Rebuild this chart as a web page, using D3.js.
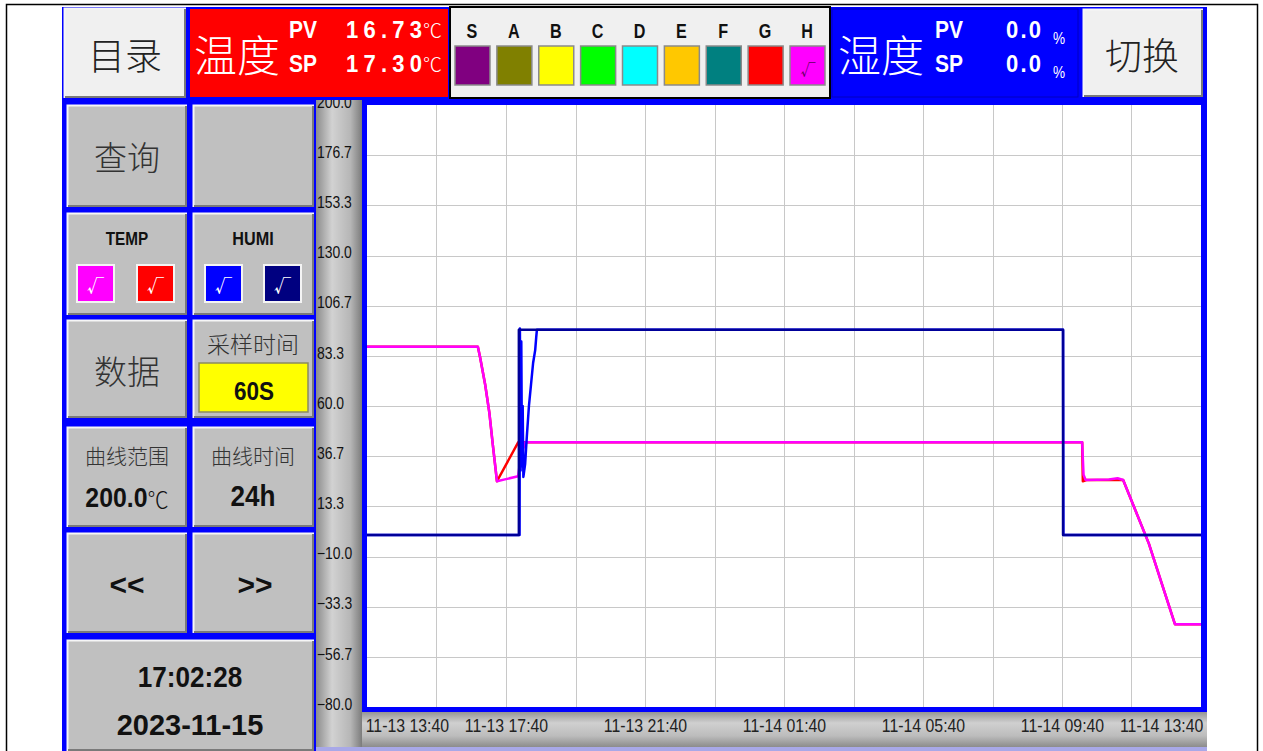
<!DOCTYPE html>
<html>
<head>
<meta charset="utf-8">
<script src="https://cdn.jsdelivr.net/npm/d3@7"></script>
<style>
  body { margin: 0; background: #fff; }
  text { font-family: "Noto Sans CJK SC", sans-serif; }
  .nar { font-family: "Liberation Sans", Arial, sans-serif; }
</style>
</head>
<body>
<script>
/* DATA */
// hours after 11-13 13:40
const yTicks = [200.0, 176.7, 153.3, 130.0, 106.7, 83.3, 60.0, 36.7, 13.3, -10.0, -33.3, -56.7, -80.0];
const xTickHours = [0, 4, 8, 12, 16, 20, 24];
const xTickLabels = ["11-13 13:40", "11-13 17:40", "11-13 21:40", "11-14 01:40", "11-14 05:40", "11-14 09:40", "11-14 13:40"];
const gridHours = [0, 2, 4, 6, 8, 10, 12, 14, 16, 18, 20, 22, 24];

const tempPV = [[0, 87.6], [3.19, 87.6], [3.25, 83], [3.40, 70], [3.52, 57], [3.62, 42], [3.74, 25], [4.0, 26], [4.35, 27.3],
  [4.42, 36], [4.55, 43.1], [20.58, 43.1], [20.62, 28], [20.68, 25.6], [21.35, 25.8], [21.6, 26.4], [21.76, 25.6],
  [22.1, 12], [22.5, -4], [22.9, -24], [23.25, -41.5], [24, -41.5]];
const tempSP = [[0, 87.6], [3.19, 87.6], [3.25, 83], [3.40, 70], [3.52, 57], [3.62, 42], [3.74, 25], [4.35, 43.1],
  [20.58, 43.1], [20.60, 25], [20.70, 25.6], [21.76, 25.6], [22.1, 12], [22.5, -4], [22.9, -24], [23.25, -41.5], [24, -41.5]];
const humiPV = [[0, 0], [4.39, 0], [4.40, 96], [4.42, 30], [4.44, 90], [4.46, 32], [4.48, 60], [4.50, 27], [4.55, 33],
  [4.60, 46], [4.66, 60], [4.72, 70], [4.78, 80], [4.84, 86], [4.87, 92], [4.89, 95.5], [20.03, 95.5], [20.04, 0], [24, 0]];
const humiSP = [[0, 0], [4.37, 0], [4.37, 95.5], [20.03, 95.5], [20.03, 0], [24, 0]];

const legendKeys = ["S", "A", "B", "C", "D", "E", "F", "G", "H"];
const legendColors = ["#800080", "#808000", "#ffff00", "#00ff00", "#00ffff", "#ffc800", "#008080", "#ff0000", "#ff00ff"];

/* CONSTANTS */
const W = 1263, H = 751,
  plot = { left: 367, right: 1201, top: 105, bottom: 707 },
  blue = "#0000ff",
  btnGray = "#c0c0c0";

const svg = d3.select("body").append("svg").attr("width", W).attr("height", H);

const defs = svg.append("defs");
const gy = defs.append("linearGradient").attr("id", "gy").attr("x1", 0).attr("x2", 1).attr("y1", 0).attr("y2", 0);
[[0, "#8c8c8c"], [0.35, "#d2d2d2"], [0.75, "#b6b6b6"], [1, "#7c7c7c"]].forEach(s => gy.append("stop").attr("offset", s[0]).attr("stop-color", s[1]));
const gx = defs.append("linearGradient").attr("id", "gx").attr("x1", 0).attr("x2", 0).attr("y1", 0).attr("y2", 1);
[[0, "#8a8a8a"], [0.35, "#d0d0d0"], [0.7, "#bcbcbc"], [1, "#8c8c8c"]].forEach(s => gx.append("stop").attr("offset", s[0]).attr("stop-color", s[1]));

// outer frame
svg.append("rect").attr("x", 6.5).attr("y", 4.5).attr("width", 1251).attr("height", 770)
  .attr("fill", "none").attr("stroke", "#000").attr("stroke-width", 1.5);

// blue backgrounds
svg.append("rect").attr("x", 62).attr("y", 7).attr("width", 1145).attr("height", 93).attr("fill", blue);
svg.append("rect").attr("x", 62).attr("y", 100).attr("width", 254).attr("height", 651).attr("fill", blue);

// axis strips
svg.append("rect").attr("x", 316).attr("y", 100).attr("width", 891).attr("height", 651).attr("fill", "#a8a8e8");
svg.append("rect").attr("x", 316).attr("y", 710).attr("width", 891).attr("height", 37).attr("fill", "url(#gx)");
svg.append("rect").attr("x", 316).attr("y", 100).attr("width", 46).attr("height", 647).attr("fill", "url(#gy)");
svg.append("rect").attr("x", 362).attr("y", 100).attr("width", 845).attr("height", 612).attr("fill", blue);
svg.append("rect").attr("x", plot.left).attr("y", plot.top).attr("width", plot.right - plot.left).attr("height", plot.bottom - plot.top).attr("fill", "#fff");

function bevel(x, y, w, h, fill) {
  const g = svg.append("g");
  g.append("rect").attr("x", x).attr("y", y).attr("width", w).attr("height", h).attr("fill", fill);
  g.append("path").attr("d", `M${x + 0.5},${y + h}V${y + 0.5}H${x + w}`).attr("stroke", "#f6f6f6").attr("stroke-width", 2).attr("fill", "none");
  g.append("path").attr("d", `M${x + 1},${y + h - 1}H${x + w - 1}V${y + 1}`).attr("stroke", "#7a7a7a").attr("stroke-width", 2).attr("fill", "none");
  return g;
}
// text placed at (x,y); sx squeezes glyphs horizontally, len stretches spacing
function label(x, y, str, size, opts = {}) {
  const t = svg.append("text")
    .attr("transform", `translate(${x},${y}) scale(${opts.sx || 1},${opts.sy || 1})`)
    .attr("class", opts.cls || null)
    .attr("text-anchor", opts.anchor || "middle")
    .attr("dominant-baseline", opts.base || "central")
    .attr("font-size", size)
    .attr("font-weight", opts.bold ? "bold" : (opts.weight || "normal"))
    .attr("fill", opts.fill || "#222")
    .text(str);
  if (opts.len) t.attr("textLength", opts.len).attr("lengthAdjust", "spacing");
  return t;
}
const cjk = { weight: 300 };

/* TOP BAR */
bevel(64, 8, 122, 90, "#f0f0f0");
label(125, 54, "目录", 37, { ...cjk });
svg.append("rect").attr("x", 190).attr("y", 9).attr("width", 258).attr("height", 88).attr("fill", "#ff0000");
label(237, 53, "温度", 43, { ...cjk, fill: "#fff" });
[["PV", "16.73", 38], ["SP", "17.30", 72]].forEach(r => {
  label(289, r[2], r[0], 21, { cls: "nar", bold: true, anchor: "start", base: "alphabetic", fill: "#fff", sx: 1.0, sy: 1.1 });
  label(422, r[2], r[1], 22, { cls: "nar", bold: true, anchor: "end", base: "alphabetic", fill: "#fff", len: 76, sy: 1.1 });
  label(423, r[2], "℃", 19, { ...cjk, anchor: "start", base: "alphabetic", fill: "#fff" });
});

// legend panel
svg.append("rect").attr("x", 450).attr("y", 7).attr("width", 380).attr("height", 91)
  .attr("fill", "#f0f0f0").attr("stroke", "#000").attr("stroke-width", 2);
const lx = d3.scalePoint().domain(legendKeys).range([472, 807]);
svg.selectAll(".lk").data(legendKeys).join("text").attr("class", "lk nar")
  .attr("transform", d => `translate(${lx(d)},38) scale(0.85,1.1)`).attr("text-anchor", "middle")
  .attr("font-size", 19).attr("font-weight", "bold").attr("fill", "#111").text(d => d);
svg.selectAll(".ls").data(legendKeys).join("rect").attr("class", "ls")
  .attr("x", d => lx(d) - 17).attr("y", 46).attr("width", 35).attr("height", 39)
  .attr("fill", (d, i) => legendColors[i]).attr("stroke", "#8a8a8a").attr("stroke-width", 1.5);
label(lx("H") + 1, 68, "√", 15, { fill: "#600060" });

// humidity panel
svg.append("rect").attr("x", 832).attr("y", 9).attr("width", 246).attr("height", 88).attr("fill", "#0000ff")
  .attr("stroke", "#0000c0").attr("stroke-width", 1);
label(881, 53, "湿度", 43, { ...cjk, fill: "#fff" });
[["PV", "0.0", 38], ["SP", "0.0", 72]].forEach(r => {
  label(935, r[2], r[0], 21, { cls: "nar", bold: true, anchor: "start", base: "alphabetic", fill: "#fff", sy: 1.1 });
  label(1041, r[2], r[1], 22, { cls: "nar", bold: true, anchor: "end", base: "alphabetic", fill: "#fff", len: 35, sy: 1.1 });
  label(1053, r[2] + 6, "%", 17, { cls: "nar", anchor: "start", base: "alphabetic", fill: "#fff", sx: 0.8 });
});
bevel(1083, 9, 120, 88, "#f0f0f0");
label(1142, 54, "切换", 37, { ...cjk });

/* LEFT PANEL */
bevel(67, 105, 120, 102, btnGray); label(127, 156, "查询", 33, { ...cjk, fill: "#333" });
bevel(193, 105, 121, 102, btnGray);
bevel(67, 213, 120, 102, btnGray); label(127, 239, "TEMP", 18, { cls: "nar", bold: true, fill: "#111", sx: 0.85 });
bevel(193, 213, 121, 102, btnGray); label(253, 239, "HUMI", 18, { cls: "nar", bold: true, fill: "#111", sx: 0.9 });
[[77, "#ff00ff"], [137, "#ff0000"], [205, "#0000ff"], [264, "#000080"]].forEach(c => {
  svg.append("rect").attr("x", c[0]).attr("y", 265).attr("width", 37).attr("height", 37).attr("fill", c[1])
    .attr("stroke", "#f4f4f4").attr("stroke-width", 2);
  label(c[0] + 18.5, 284, "√", 17, { fill: "#fff", bold: true });
});
bevel(67, 320, 120, 98, btnGray); label(127, 370, "数据", 33, { ...cjk, fill: "#333" });
bevel(193, 320, 121, 98, btnGray); label(253, 343, "采样时间", 23, { ...cjk, fill: "#333" });
svg.append("rect").attr("x", 199).attr("y", 363).attr("width", 109).attr("height", 49).attr("fill", "#ffff00")
  .attr("stroke", "#8a8a60").attr("stroke-width", 1.5);
label(254, 391, "60S", 25, { cls: "nar", bold: true, fill: "#111", sx: 0.9 });
bevel(67, 427, 120, 100, btnGray); label(127, 455, "曲线范围", 21, { ...cjk, fill: "#333" });
const rng = label(127, 498, "", 27, { cls: "nar", bold: true, fill: "#111", sx: 0.92 });
rng.append("tspan").text("200.0");
rng.append("tspan").attr("font-weight", 300).attr("font-family", "Noto Sans CJK SC").attr("font-size", 23).text("℃");
bevel(193, 427, 121, 100, btnGray); label(253, 455, "曲线时间", 21, { ...cjk, fill: "#333" });
label(253, 496, "24h", 29, { cls: "nar", bold: true, fill: "#111", sx: 0.9 });
bevel(67, 533, 120, 100, btnGray); label(127, 584, "<<", 30, { cls: "nar", bold: true, fill: "#111" });
bevel(193, 533, 121, 100, btnGray); label(255, 584, ">>", 30, { cls: "nar", bold: true, fill: "#111" });
bevel(67, 640, 247, 111, btnGray);
label(190, 677, "17:02:28", 29, { cls: "nar", bold: true, fill: "#111", sx: 0.9 });
label(190, 725, "2023-11-15", 29, { cls: "nar", bold: true, fill: "#111", sx: 1.0 });

/* CHART */
const x = d3.scaleLinear().domain([0, 24]).range([plot.left, plot.right]);
const y = d3.scaleLinear().domain([-80, 200]).range([plot.bottom, plot.top]);

const grid = svg.append("g").attr("stroke", "#c8c8c8").attr("stroke-width", 1);
grid.selectAll(".gv").data(gridHours.slice(1, -1)).join("line")
  .attr("x1", d => Math.round(x(d)) + 0.5).attr("x2", d => Math.round(x(d)) + 0.5)
  .attr("y1", plot.top).attr("y2", plot.bottom);
grid.selectAll(".gh").data(yTicks.slice(1, -1)).join("line")
  .attr("y1", d => Math.round(y(d)) + 0.5).attr("y2", d => Math.round(y(d)) + 0.5)
  .attr("x1", plot.left).attr("x2", plot.right);

svg.append("clipPath").attr("id", "ystrip").append("rect").attr("x", 316).attr("y", 100).attr("width", 46).attr("height", 612);
const yAxis = d3.axisRight(y).tickValues(yTicks).tickFormat(d3.format(".1f")).tickSize(0).tickPadding(1);
svg.append("g").attr("clip-path", "url(#ystrip)")
  .append("g").attr("transform", "translate(316,-3)").call(yAxis)
  .call(g => g.select(".domain").remove())
  .selectAll("text").attr("class", "nar").attr("font-size", 15).attr("fill", "#111")
  .attr("transform", "scale(0.93,1.1)");

const xAxis = d3.axisBottom(x).tickValues(xTickHours).tickFormat((d, i) => xTickLabels[i]).tickSize(0).tickPadding(0);
svg.append("g").attr("transform", "translate(0,712)").call(xAxis)
  .call(g => g.select(".domain").remove())
  .selectAll("text").attr("class", "nar").attr("font-size", 18).attr("fill", "#222").attr("dy", "1.1em")
  .attr("transform", "scale(0.88,1)")
  .attr("text-anchor", (d, i) => i === 0 ? "start" : i === xTickHours.length - 1 ? "end" : "middle")
  .attr("dx", (d, i) => i === 0 ? -2 : i === xTickHours.length - 1 ? 2 : 0);

const line = d3.line().x(d => x(d[0])).y(d => y(d[1]));
const series = [[tempSP, "#ff0000"], [tempPV, "#ff00ff"], [humiPV, "#0000ff"], [humiSP, "#000099"]];
svg.selectAll(".series").data(series).join("path").attr("class", "series")
  .attr("d", d => line(d[0])).attr("fill", "none").attr("stroke", d => d[1])
  .attr("stroke-width", 2.5).attr("stroke-linejoin", "round");
</script>
</body>
</html>
